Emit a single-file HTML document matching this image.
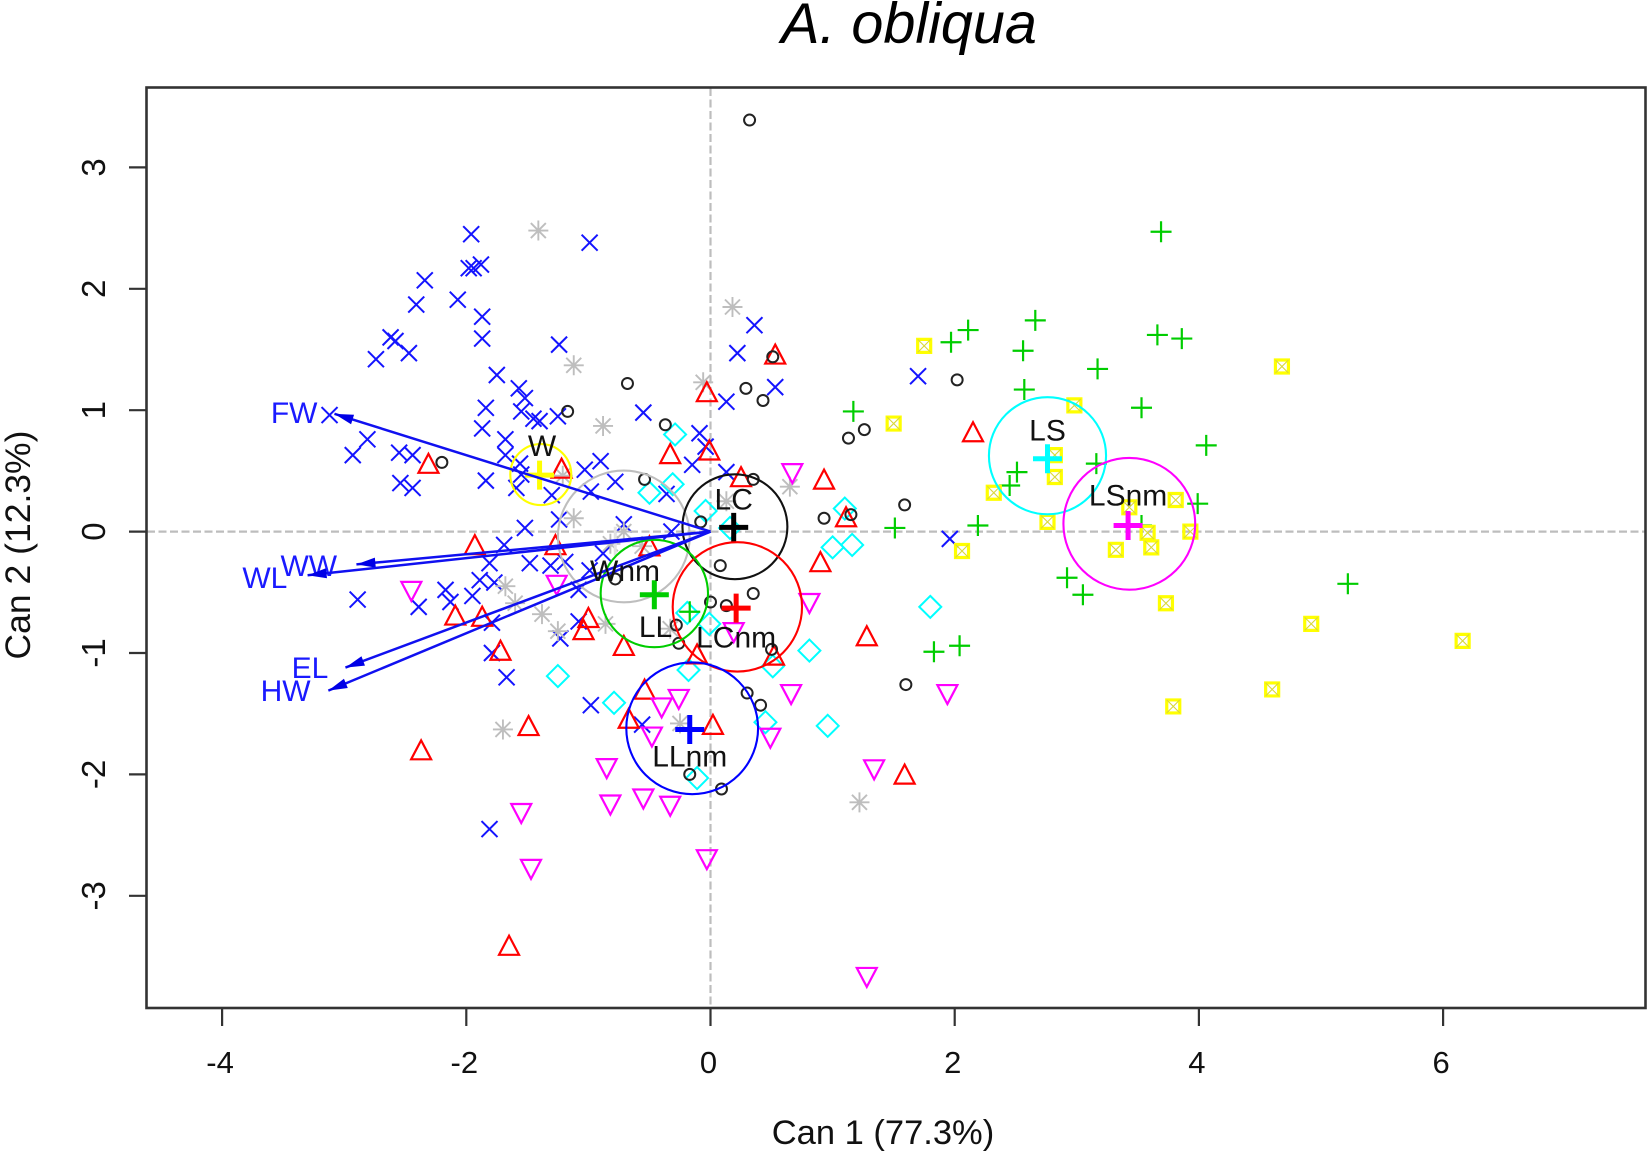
<!DOCTYPE html>
<html lang="en">
<head>
<meta charset="utf-8">
<title>A. obliqua canonical plot</title>
<style>
html,body{margin:0;padding:0;background:#fff;}
svg{display:block;font-family:"Liberation Sans",Arial,sans-serif;}
</style>
</head>
<body>
<svg id="chart" xmlns="http://www.w3.org/2000/svg" width="1650" height="1153" viewBox="0 0 1650 1153">
  <rect x="0" y="0" width="1650" height="1153" fill="#fff"/>
  <text x="909" y="43" font-size="57.5" font-style="italic" text-anchor="middle" fill="#000">A. obliqua</text>
  <text x="883" y="1144" font-size="34.5" text-anchor="middle" fill="#111">Can 1 (77.3%)</text>
  <text transform="translate(30,545) rotate(-90)" font-size="35.5" text-anchor="middle" fill="#111">Can 2 (12.3%)</text>
  <g id="axes"></g>
  <g id="points"></g>
  <g id="groups"></g>
  <g id="vectors"></g>
  <g id="group-labels"></g>
  <rect x="146.5" y="87.5" width="1499" height="920.5" fill="none" stroke="#333" stroke-width="2.6"/>
</svg>
<script>
const xTicks = [-4, -2, 0, 2, 4, 6];
const yTicks = [-3, -2, -1, 0, 1, 2, 3];

const crossPoints = [[-1.96,2.45],[-0.99,2.38],[-1.88,2.20],[-1.94,2.17],[-1.98,2.17],[-2.34,2.07],[-2.07,1.91],[-2.41,1.87],[-1.87,1.77],[-1.87,1.59],[-2.62,1.60],[-2.58,1.57],[-1.24,1.54],[-2.47,1.47],[-2.74,1.42],[0.36,1.70],[0.22,1.47],[0.53,1.19],[0.13,1.07],[-1.75,1.29],[-1.57,1.18],[-1.52,1.10],[-1.84,1.02],[-1.55,0.99],[-1.45,0.93],[-1.40,0.91],[-1.25,0.95],[-3.12,0.96],[-2.81,0.76],[-2.93,0.63],[-2.55,0.65],[-2.44,0.63],[-1.87,0.85],[-1.68,0.76],[-1.68,0.63],[-1.56,0.56],[-2.54,0.40],[-2.44,0.36],[-1.84,0.42],[-1.55,0.47],[-1.59,0.36],[-1.30,0.30],[-1.24,0.10],[-1.52,0.03],[-1.69,-0.11],[-1.03,0.51],[-0.90,0.58],[-0.78,0.41],[-0.98,0.33],[-0.71,0.06],[-0.55,0.98],[-0.09,0.81],[-0.04,0.70],[-0.15,0.55],[0.13,0.49],[-0.36,0.31],[-0.32,0.00],[-0.88,-0.18],[-0.99,-0.32],[-1.08,-0.48],[-1.81,-0.26],[-1.48,-0.26],[-1.31,-0.28],[-1.19,-0.25],[-1.89,-0.40],[-1.77,-0.42],[-2.89,-0.56],[-2.39,-0.62],[-2.17,-0.48],[-2.13,-0.58],[-1.95,-0.53],[-1.79,-0.75],[-1.79,-1.00],[-1.67,-1.20],[-1.08,-0.74],[-1.23,-0.88],[-0.98,-1.43],[-0.56,-1.59],[-1.81,-2.45],[1.70,1.28],[1.96,-0.06]];
const asteriskPoints = [[-1.41,2.48],[0.18,1.85],[-1.12,1.37],[-0.06,1.23],[-0.88,0.87],[0.65,0.37],[-1.21,0.46],[-1.12,0.11],[-0.71,0.00],[0.13,0.25],[-0.56,-0.12],[-1.68,-0.45],[-1.60,-0.59],[-1.38,-0.68],[-1.25,-0.82],[-1.70,-1.63],[-0.86,-0.76],[-0.25,-1.58],[-0.33,-0.80],[1.22,-2.23],[-0.82,-0.10]];
const circlePoints = [[0.32,3.39],[-0.68,1.22],[-1.17,0.99],[-0.37,0.88],[-2.20,0.57],[0.29,1.18],[0.43,1.08],[0.51,1.44],[-0.54,0.43],[0.35,0.43],[0.93,0.11],[-0.08,0.08],[0.08,-0.28],[-0.78,-0.39],[0.35,-0.51],[0.00,-0.58],[0.13,-0.61],[-0.28,-0.77],[-0.26,-0.92],[0.50,-0.97],[0.30,-1.33],[0.41,-1.43],[-0.17,-2.00],[0.09,-2.12],[1.13,0.77],[1.26,0.84],[2.02,1.25],[1.59,0.22],[1.15,0.14],[1.60,-1.26]];
const triangleUpPoints = [[0.53,1.45],[-0.03,1.14],[-0.33,0.63],[-0.01,0.66],[-2.31,0.55],[-1.22,0.51],[0.25,0.44],[0.93,0.42],[-1.93,-0.12],[-1.27,-0.12],[-0.50,-0.13],[2.15,0.81],[1.11,0.11],[0.90,-0.26],[-2.09,-0.70],[-1.87,-0.71],[-1.72,-0.99],[-1.49,-1.61],[-2.37,-1.81],[-1.00,-0.72],[-1.04,-0.82],[-0.71,-0.95],[-0.11,-1.02],[0.52,-1.03],[-0.54,-1.31],[-0.67,-1.55],[0.02,-1.60],[-1.65,-3.42],[1.28,-0.87],[1.59,-2.01]];
const triangleDownPoints = [[0.67,0.49],[-2.45,-0.48],[-1.26,-0.43],[0.81,-0.58],[0.19,-0.82],[-0.26,-1.37],[-0.40,-1.44],[-0.48,-1.68],[0.49,-1.69],[0.66,-1.33],[-0.85,-1.94],[-0.82,-2.24],[-0.55,-2.19],[-0.33,-2.25],[-1.55,-2.31],[-1.47,-2.77],[-0.03,-2.69],[1.94,-1.33],[1.34,-1.95],[1.28,-3.66]];
const diamondPoints = [[-0.29,0.80],[-0.31,0.39],[-0.50,0.32],[-0.04,0.17],[0.16,0.03],[1.10,0.19],[1.00,-0.13],[1.16,-0.11],[-1.25,-1.19],[-0.19,-0.67],[-0.01,-0.76],[0.81,-0.98],[0.51,-1.11],[-0.18,-1.14],[-0.79,-1.41],[0.45,-1.57],[0.96,-1.60],[-0.11,-2.03],[1.80,-0.62]];
const plusPoints = [[3.69,2.47],[2.66,1.74],[2.11,1.66],[1.97,1.56],[2.56,1.49],[3.66,1.62],[3.86,1.59],[3.17,1.34],[2.57,1.17],[3.53,1.02],[1.17,0.99],[4.06,0.71],[3.16,0.56],[2.51,0.49],[2.45,0.38],[3.99,0.23],[1.51,0.03],[2.19,0.05],[3.53,0.05],[2.92,-0.38],[3.05,-0.52],[5.22,-0.43],[1.83,-0.99],[2.04,-0.94],[-0.17,-0.66]];
const squarePoints = [[1.75,1.53],[1.50,0.89],[4.68,1.36],[2.98,1.04],[2.82,0.63],[2.82,0.45],[2.32,0.32],[2.76,0.08],[3.81,0.26],[3.43,0.20],[3.58,-0.01],[3.93,0.00],[3.32,-0.15],[3.61,-0.13],[2.06,-0.16],[3.73,-0.59],[4.92,-0.76],[6.16,-0.90],[4.60,-1.30],[3.79,-1.44]];

const vectorNames = ["FW", "WW", "WL", "EL", "HW"];
const vectorTips = [[-3.08,0.97],[-2.90,-0.27],[-3.30,-0.36],[-2.99,-1.12],[-3.13,-1.31]];
const vectorLabelSpots = [[-3.41,0.98],[-3.29,-0.28],[-3.65,-0.38],[-3.28,-1.12],[-3.48,-1.31]];

const groupNames = ["Wnm", "W", "LC", "LCnm", "LL", "LLnm", "LS", "LSnm"];
const groupMeans = [[-0.78,-0.08],[-1.40,0.465],[0.19,0.035],[0.21,-0.63],[-0.46,-0.52],[-0.17,-1.63],[2.76,0.60],[3.42,0.05]];
const groupCenters = [[-0.71,-0.04],[-1.39,0.47],[0.20,0.04],[0.22,-0.62],[-0.46,-0.51],[-0.15,-1.62],[2.76,0.625],[3.43,0.064]];
const groupRadii = [0.54,0.25,0.43,0.53,0.44,0.54,0.48,0.54];
const groupLabelSpots = [[-0.70,-0.32],[-1.38,0.71],[0.19,0.27],[0.21,-0.87],[-0.45,-0.78],[-0.17,-1.85],[2.76,0.835],[3.42,0.30]];
const groupColors = ["#bebebe", "#ffff00", "#111111", "#ff0000", "#00cd00", "#0000ff", "#00ffff", "#ff00ff"];

const SVGNS = "http://www.w3.org/2000/svg";
const sx = v => 710.5 + 122.1 * v;
const sy = v => 531.6 - 121.4 * v;
const mk = (parent, tag) => {
  const el = document.createElementNS(SVGNS, tag);
  parent.appendChild(el);
  return el;
};
const line = (parent, x1, y1, x2, y2, color, width) => {
  const el = mk(parent, "line");
  el.setAttribute("x1", x1);
  el.setAttribute("y1", y1);
  el.setAttribute("x2", x2);
  el.setAttribute("y2", y2);
  el.setAttribute("stroke", color);
  el.setAttribute("stroke-width", width);
  return el;
};

const axes = document.getElementById("axes");
const pointsLayer = document.getElementById("points");
const vectorsLayer = document.getElementById("vectors");
const groupsLayer = document.getElementById("groups");
const groupLabelsLayer = document.getElementById("group-labels");

const refH = line(axes, 147, sy(0), 1645, sy(0), "#bdbdbd", 2.2);
refH.setAttribute("stroke-dasharray", "8 3.5");


const refV = line(axes, sx(0), 88, sx(0), 1008, "#bdbdbd", 2.2);
refV.setAttribute("stroke-dasharray", "8 3.5");



xTicks.forEach(v => {
  const t = line(axes, sx(v), 1008, sx(v), 1026, "#333", 2.2);
  
  
  const label = mk(axes, "text");
  
  
  label.setAttribute("x", sx(v) - 2);
  label.setAttribute("y", 1073);
  label.setAttribute("font-size", "31");
  label.setAttribute("text-anchor", "middle");
  label.setAttribute("fill", "#111");
  label.textContent = String(v);
});
yTicks.forEach(v => {
  const t = line(axes, 129, sy(v), 147, sy(v), "#333", 2.2);
  
  
  const label = mk(axes, "text");
  
  
  label.setAttribute("transform", "translate(105," + sy(v) + ") rotate(-90)");
  label.setAttribute("font-size", "33");
  label.setAttribute("text-anchor", "middle");
  label.setAttribute("fill", "#111");
  label.textContent = String(v);
});

crossPoints.forEach(p => {
  const x = sx(p[0]), y = sy(p[1]), r = 8;
  const el = mk(pointsLayer, "path");
  
  
  el.setAttribute("d", `M${x-r} ${y-r}L${x+r} ${y+r}M${x-r} ${y+r}L${x+r} ${y-r}`);
  el.setAttribute("stroke", "#1414ff");
  el.setAttribute("stroke-width", "2");
  el.setAttribute("fill", "none");
});
asteriskPoints.forEach(p => {
  const x = sx(p[0]), y = sy(p[1]), r = 10, d = 7.5;
  const el = mk(pointsLayer, "path");
  
  
  el.setAttribute("d", `M${x-r} ${y}L${x+r} ${y}M${x} ${y-r}L${x} ${y+r}M${x-d} ${y-d}L${x+d} ${y+d}M${x-d} ${y+d}L${x+d} ${y-d}`);
  el.setAttribute("stroke", "#bebebe");
  el.setAttribute("stroke-width", "1.9");
  el.setAttribute("fill", "none");
});
diamondPoints.forEach(p => {
  const x = sx(p[0]), y = sy(p[1]), r = 11;
  const el = mk(pointsLayer, "path");
  
  
  el.setAttribute("d", `M${x} ${y-r}L${x+r} ${y}L${x} ${y+r}L${x-r} ${y}Z`);
  el.setAttribute("stroke", "#00ffff");
  el.setAttribute("stroke-width", "2");
  el.setAttribute("fill", "none");
});
triangleUpPoints.forEach(p => {
  const x = sx(p[0]), y = sy(p[1]);
  const el = mk(pointsLayer, "path");
  
  
  el.setAttribute("d", `M${x} ${y-11}L${x+10} ${y+8}L${x-10} ${y+8}Z`);
  el.setAttribute("stroke", "#ff0000");
  el.setAttribute("stroke-width", "2.2");
  el.setAttribute("fill", "none");
});
triangleDownPoints.forEach(p => {
  const x = sx(p[0]), y = sy(p[1]);
  const el = mk(pointsLayer, "path");
  
  
  el.setAttribute("d", `M${x} ${y+11}L${x+10} ${y-8}L${x-10} ${y-8}Z`);
  el.setAttribute("stroke", "#ff00ff");
  el.setAttribute("stroke-width", "2.2");
  el.setAttribute("fill", "none");
});
plusPoints.forEach(p => {
  const x = sx(p[0]), y = sy(p[1]), r = 10.5;
  const el = mk(pointsLayer, "path");
  
  
  el.setAttribute("d", `M${x-r} ${y}L${x+r} ${y}M${x} ${y-r}L${x} ${y+r}`);
  el.setAttribute("stroke", "#00cd00");
  el.setAttribute("stroke-width", "2.2");
  el.setAttribute("fill", "none");
});
squarePoints.forEach(p => {
  const x = sx(p[0]), y = sy(p[1]), r = 6.5;
  const el = mk(pointsLayer, "path");
  
  
  el.setAttribute("d", `M${x-r} ${y-r}H${x+r}V${y+r}H${x-r}Z`);
  el.setAttribute("stroke", "#ffff00");
  el.setAttribute("stroke-width", "3.2");
  el.setAttribute("fill", "none");
  const inner = mk(pointsLayer, "path");
  
  
  inner.setAttribute("d", `M${x-r} ${y-r}L${x+r} ${y+r}M${x-r} ${y+r}L${x+r} ${y-r}`);
  inner.setAttribute("stroke", "#d8d83a");
  inner.setAttribute("stroke-width", "1.1");
  inner.setAttribute("fill", "none");
});
circlePoints.forEach(p => {
  const el = mk(pointsLayer, "circle");
  
  
  el.setAttribute("cx", sx(p[0]));
  el.setAttribute("cy", sy(p[1]));
  el.setAttribute("r", "5.5");
  el.setAttribute("stroke", "#222");
  el.setAttribute("stroke-width", "2");
  el.setAttribute("fill", "none");
});

groupNames.forEach((name, i) => {
  const color = groupColors[i];
  const ring = mk(groupsLayer, "circle");
  
  
  ring.setAttribute("cx", sx(groupCenters[i][0]));
  ring.setAttribute("cy", sy(groupCenters[i][1]));
  ring.setAttribute("r", groupRadii[i] * 122);
  ring.setAttribute("stroke", color);
  ring.setAttribute("stroke-width", "2.1");
  ring.setAttribute("fill", "none");
  const x = sx(groupMeans[i][0]), y = sy(groupMeans[i][1]);
  const mean = mk(groupsLayer, "path");
  
  
  mean.setAttribute("d", `M${x-14.5} ${y}L${x+14.5} ${y}M${x} ${y-14.5}L${x} ${y+14.5}`);
  mean.setAttribute("stroke", i === 0 ? "#e2e2e2" : (i === 2 ? "#000" : color));
  mean.setAttribute("stroke-width", i === 0 ? "3" : "5");
  mean.setAttribute("fill", "none");
  const label = mk(groupLabelsLayer, "text");
  
  
  label.setAttribute("x", sx(groupLabelSpots[i][0]));
  label.setAttribute("y", sy(groupLabelSpots[i][1]));
  label.setAttribute("dy", ".35em");
  label.setAttribute("font-size", "30");
  label.setAttribute("text-anchor", "middle");
  label.setAttribute("fill", "#111");
  label.textContent = name;
});

vectorNames.forEach((name, i) => {
  const x0 = sx(0), y0 = sy(0);
  const x1 = sx(vectorTips[i][0]), y1 = sy(vectorTips[i][1]);
  const shaft = line(vectorsLayer, x0, y0, x1, y1, "#1010f0", 2.5);
  
  
  const len = Math.hypot(x1 - x0, y1 - y0);
  const ux = (x0 - x1) / len, uy = (y0 - y1) / len;
  const bx = x1 + ux * 19, by = y1 + uy * 19;
  const head = mk(vectorsLayer, "path");
  
  
  head.setAttribute("d", `M${x1} ${y1}L${bx - uy * 5} ${by + ux * 5}L${bx + uy * 5} ${by - ux * 5}Z`);
  head.setAttribute("fill", "#0000e6");
  const label = mk(vectorsLayer, "text");
  
  
  label.setAttribute("x", sx(vectorLabelSpots[i][0]));
  label.setAttribute("y", sy(vectorLabelSpots[i][1]));
  label.setAttribute("dy", ".35em");
  label.setAttribute("font-size", "30");
  label.setAttribute("text-anchor", "middle");
  label.setAttribute("fill", "#1a1aff");
  label.textContent = name;
});
</script>
</body>
</html>
